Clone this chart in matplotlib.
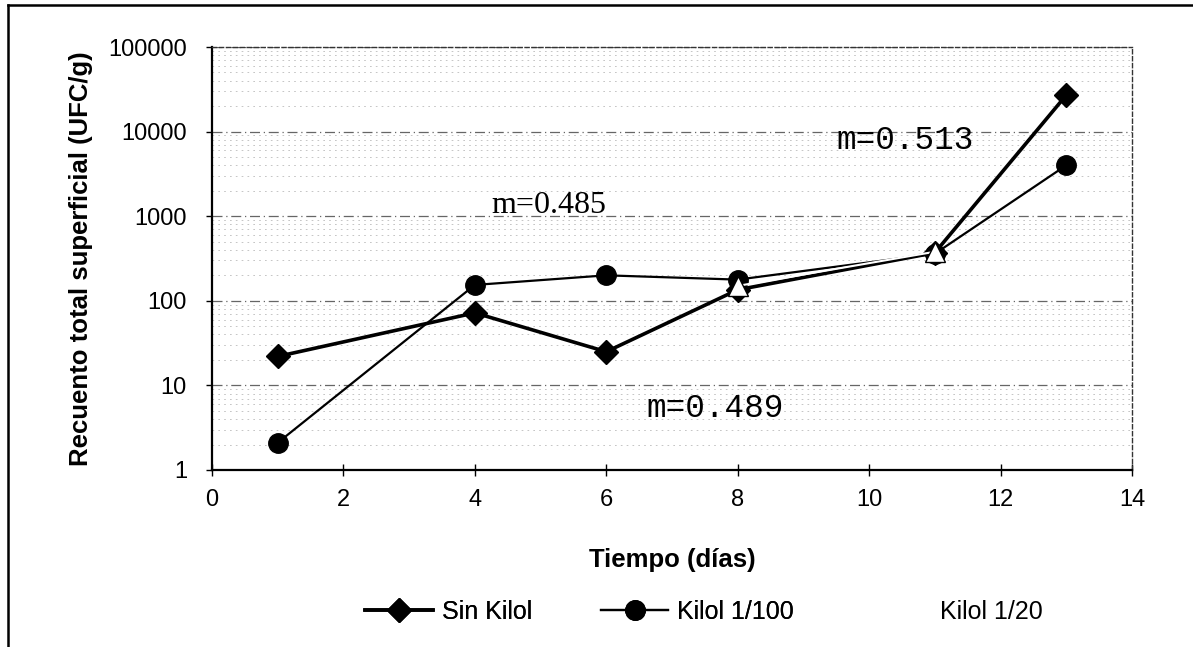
import numpy as np
import matplotlib.pyplot as plt
from matplotlib.lines import Line2D
from matplotlib.ticker import FixedLocator, FixedFormatter, LogLocator, NullFormatter

# values
dias = [1, 4, 6, 8, 11, 13]
sin_kilol = [22, 72, 25, 135, 370, 27000]
kilol_100 = [2.1, 154, 200, 178, 360, 4000]
dias_20 = [8, 11]
kilol_20 = [150, 380]

y_ticks = [1, 10, 100, 1000, 10000, 100000]
x_ticks = [0, 2, 4, 6, 8, 10, 12, 14]

plt.rcParams['font.family'] = ['Liberation Sans', 'DejaVu Sans']

fig = plt.figure(figsize=(11.93, 6.47), dpi=100)
ax = fig.add_axes([212 / 1193, 1 - 470 / 647, 920 / 1193, 423 / 647])

ax.set_yscale('log')
ax.set_xlim(0, 14)
ax.set_ylim(1, 100000)

# faint scan-like gridlines
ax.yaxis.set_minor_locator(LogLocator(base=10, subs=np.arange(2, 10)))
ax.yaxis.set_minor_formatter(NullFormatter())
ax.grid(True, which='major', axis='y', color='#666666', lw=0.9, ls=(0, (8, 3, 1, 3)))
ax.grid(True, which='minor', axis='y', color='#bbbbbb', lw=0.6, ls=(0, (2, 5)))
ax.set_axisbelow(True)

ax.plot(dias, sin_kilol, color='black', lw=2.6, marker='D', ms=12,
        label='Sin Kilol', zorder=3)
ax.plot(dias, kilol_100, color='black', lw=1.6, marker='o', ms=14,
        label='Kilol 1/100', zorder=3)
ax.plot(dias_20, kilol_20, color='white', lw=1.5, marker='^', ms=15,
        mfc='white', mec='black', mew=1.0, zorder=4)

ax.yaxis.set_major_locator(FixedLocator(y_ticks))
ax.yaxis.set_major_formatter(FixedFormatter([str(v) for v in y_ticks]))
ax.set_xticks(x_ticks)
ax.tick_params(axis='both', labelsize=17)
ax.tick_params(axis='x', direction='inout', length=8, width=1, pad=10)
ax.tick_params(axis='y', which='major', direction='out', length=4, width=1, pad=14)
ax.tick_params(axis='y', which='minor', length=0)

for s in ['left', 'bottom']:
    ax.spines[s].set_linewidth(1.6)
for s in ['top', 'right']:
    ax.spines[s].set_linewidth(1.0)
    ax.spines[s].set_linestyle((0, (3, 2)))
    ax.spines[s].set_color('#333333')

ax.set_xlabel('Tiempo (días)', fontsize=18.5, fontweight='bold', labelpad=26)
ax.set_ylabel('Recuento total superficial (UFC/g)', fontsize=18.5,
              fontweight='bold', labelpad=11)

ax.text(5.13, 1350, 'm=0.485', family=['Liberation Serif', 'DejaVu Serif'],
        fontsize=23, ha='center', va='center')
ax.text(10.55, 7900, 'm=0.513', family=['Liberation Mono', 'DejaVu Sans Mono'],
        fontsize=23.5, ha='center', va='center')
ax.text(7.66, 5.4, 'm=0.489', family=['Liberation Mono', 'DejaVu Sans Mono'],
        fontsize=23.5, ha='center', va='center')

handles, labels = ax.get_legend_handles_labels()
leg_kw = dict(frameon=False, fontsize=18, handlelength=2.7,
              handletextpad=0.36, borderpad=0, borderaxespad=0)
leg1 = fig.legend(handles, labels, loc='center left',
                  bbox_to_anchor=(365 / 1193, 1 - 612 / 647), ncol=2,
                  columnspacing=2.76, **leg_kw)
fig.add_artist(leg1)
# third series has a white line, so its legend key shows nothing
proxy = Line2D([], [], color='white', lw=1.5)
fig.legend([proxy], ['Kilol 1/20'], loc='center left',
           bbox_to_anchor=(863 / 1193, 1 - 612 / 647), **leg_kw)

# page border from the scan (top and left edges)
fig.add_artist(Line2D([8 / 1193, 8 / 1193], [0, 1 - 5 / 647], color='black', lw=1.8))
fig.add_artist(Line2D([8 / 1193, 1], [1 - 5 / 647, 1 - 5 / 647], color='black', lw=1.8))

fig.savefig('out.png', dpi=100)
